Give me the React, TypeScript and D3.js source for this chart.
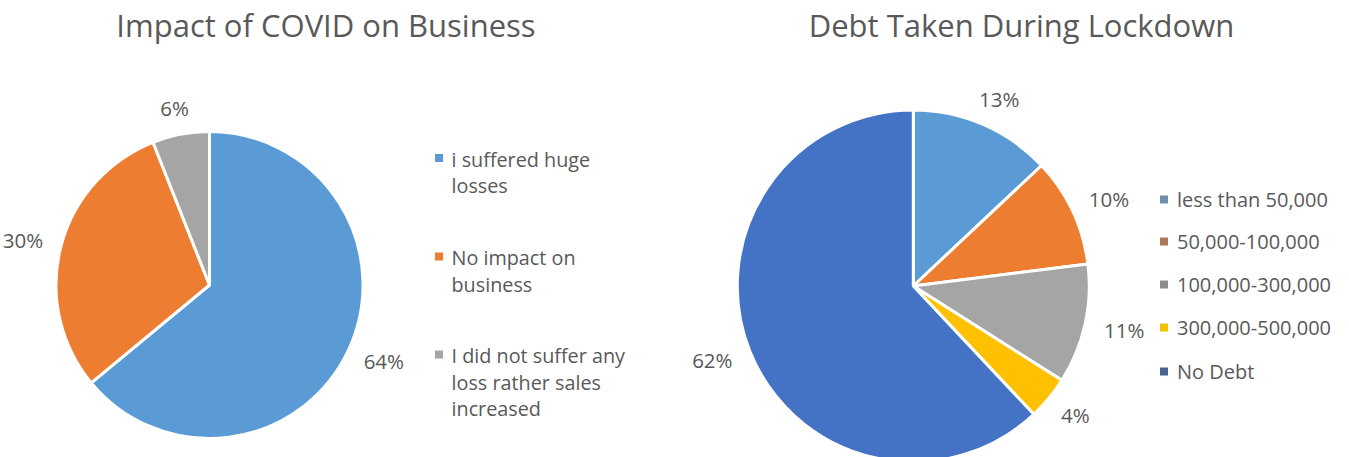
import React from "react";
import * as d3 from "d3";

const impactCategories = [
  "i suffered huge losses",
  "No impact on business",
  "I did not suffer any loss rather sales increased",
];
const impactLegendLines = [
  ["i suffered huge", "losses"],
  ["No impact on", "business"],
  ["I did not suffer any", "loss rather sales", "increased"],
];
const impactValues = [64, 30, 6];
const impactColors = ["#5B9BD5", "#ED7D31", "#A5A5A5"];

const debtCategories = [
  "less than 50,000",
  "50,000-100,000",
  "100,000-300,000",
  "300,000-500,000",
  "No Debt",
];
const debtValues = [13, 10, 11, 4, 62];
const debtColors = ["#5B9BD5", "#ED7D31", "#A5A5A5", "#FFC000", "#4472C4"];
const debtLegendColors = ["#6E8DAA", "#A8785A", "#8D8D8D", "#F2C200", "#4A6491"];

const TEXT = "#595959";
const FONT = "'Open Sans', sans-serif";

type PieProps = {
  cx: number;
  cy: number;
  r: number;
  values: number[];
  colors: string[];
  labelSize: number;
  gap: number;
};

function Pie({ cx, cy, r, values, colors, labelSize, gap }: PieProps) {
  const total = d3.sum(values);
  const arcs = d3.pie<number>().sort(null).value((d) => d)(values);
  const arcGen = d3.arc<d3.PieArcDatum<number>>().innerRadius(0).outerRadius(r);
  return (
    <g transform={`translate(${cx},${cy})`}>
      {arcs.map((a, i) => (
        <path
          key={i}
          d={arcGen(a) || ""}
          fill={colors[i]}
          stroke="#ffffff"
          strokeWidth={3}
          strokeLinejoin="round"
        />
      ))}
      {arcs.map((a, i) => {
        const mid = (a.startAngle + a.endAngle) / 2;
        const s = Math.sin(mid);
        const c = Math.cos(mid);
        const label = `${Math.round((a.value / total) * 100)}%`;
        const digits = label.length - 1;
        const halfW = ((digits * 0.572 + 0.823) * labelSize) / 2;
        const halfH = labelSize * 0.36;
        const R = r + gap;
        const x = R * s + Math.abs(s) * halfW * Math.sign(s);
        const y = -R * c - Math.abs(c) * halfH * Math.sign(c);
        return (
          <text
            key={"l" + i}
            x={x}
            y={y}
            dy="0.36em"
            textAnchor="middle"
            fontSize={labelSize}
            fill={TEXT}
            fontFamily={FONT}
          >
            {label}
          </text>
        );
      })}
    </g>
  );
}

export default function App() {
  const lineH = 26.5;
  const impactLegendBaselines = [166.5, 265, 363];
  const debtLegendBaselines = [207, 249, 292, 335, 379];
  return (
    <svg
      width={1349}
      height={457}
      style={{ position: "absolute", left: 0, top: 0, background: "#fff" }}
      fontFamily={FONT}
    >
      <rect x={0} y={0} width={1349} height={457} fill="#ffffff" />
      <text x={326} y={36.5} textAnchor="middle" fontSize={31} fill={TEXT}>
        Impact of COVID on Business
      </text>
      <text x={1021.5} y={36.5} textAnchor="middle" fontSize={31} fill={TEXT}>
        Debt Taken During Lockdown
      </text>

      <Pie cx={209.5} cy={285} r={153.5} values={impactValues} colors={impactColors} labelSize={20.5} gap={19} />
      <Pie cx={913.3} cy={286} r={176} values={debtValues} colors={debtColors} labelSize={20.5} gap={20} />

      {impactCategories.map((cat, i) => (
        <g key={cat}>
          <rect x={435} y={impactLegendBaselines[i] - 12.5} width={8} height={8} fill={impactColors[i]} />
          <text x={451.5} y={impactLegendBaselines[i]} fontSize={19.8} fill={TEXT}>
            {impactLegendLines[i].map((ln, j) => (
              <tspan key={j} x={451.5} y={impactLegendBaselines[i] + j * lineH}>
                {ln}
              </tspan>
            ))}
          </text>
        </g>
      ))}

      {debtCategories.map((cat, i) => (
        <g key={cat}>
          <rect x={1160} y={debtLegendBaselines[i] - 11.5} width={8} height={8} fill={debtLegendColors[i]} />
          <text x={1177} y={debtLegendBaselines[i]} fontSize={20} fill={TEXT}>
            {cat}
          </text>
        </g>
      ))}
    </svg>
  );
}
